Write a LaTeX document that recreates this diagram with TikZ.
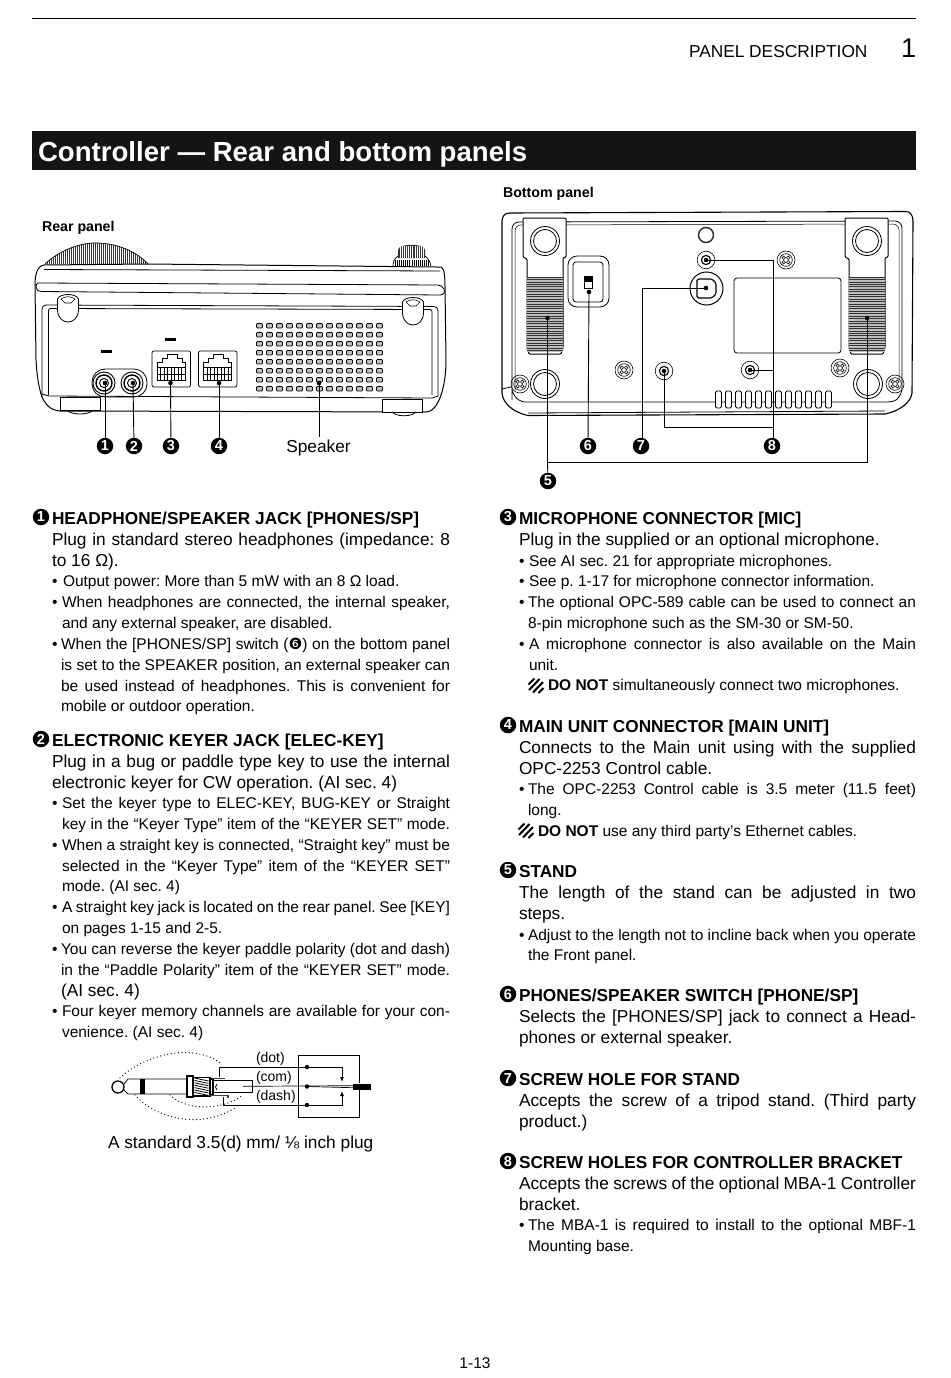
\documentclass[tikz,border=0pt]{standalone}
\usepackage{fontspec}
\usetikzlibrary{arrows.meta}
\setmainfont{Liberation Sans}
\newfontfamily\dejavu{DejaVu Sans}
\AtBeginDocument{\frenchspacing}
\newcounter{tn}
\newcommand\fbody{\fontsize{17.3}{20}\selectfont}
\newcommand\fbul{\fontsize{15.5}{18}\selectfont}
\newcommand\fhead{\fontsize{17.25}{20}\selectfont\bfseries}
% left text: x,y,text
\newcommand\tb[3]{\stepcounter{tn}\node[txt,name=t\arabic{tn}] at (#1,#2) {\fbody #3};}
\newcommand\tu[3]{\stepcounter{tn}\node[txt,name=t\arabic{tn}] at (#1,#2) {\fbul #3};}
% justified: x,xend,y,text
\newcommand\jb[4]{\stepcounter{tn}\node[txt,name=t\arabic{tn}] at (#1,#3) {\fbody\makebox[\dimexpr #2pt-#1pt\relax][s]{#4}};}
\newcommand\ju[4]{\stepcounter{tn}\node[txt,name=t\arabic{tn}] at (#1,#3) {\fbul\makebox[\dimexpr #2pt-#1pt\relax][s]{#4}};}
\newcommand\bu[2]{\stepcounter{tn}\node[txt,name=t\arabic{tn}] at (#1,#2) {\fbul •};}
\newcommand\hd[4]{\node[callout] (h#3) at (#1,{#2-7}) {#3};\stepcounter{tn}\node[txt,name=t\arabic{tn}] at ({#1+11},#2) {\fhead #4};}
\newcommand\hatchicon[2]{\begin{scope}[shift={(#1,#2)},line width=2pt]
\draw (0.5,6.5) -- (6.5,0.5);
\draw (1,12) -- (11.5,1);
\draw (5,14.5) -- (15,4);
\draw (10.5,15) -- (15.5,10);
\end{scope}}
\newcommand\hexscrew[2]{\begin{scope}[shift={(#1,#2)}]
\draw[line width=.6pt] (0,0) circle (9);
\draw[line width=.6pt] (0,0) circle (6.3);
\draw[line width=.6pt] (-2.2,-2.2) circle (1.7) (2.2,-2.2) circle (1.7) (-2.2,2.2) circle (1.7) (2.2,2.2) circle (1.7);
\end{scope}}
\newcommand\ringscrew[2]{\begin{scope}[shift={(#1,#2)}]
\draw[line width=.6pt,fill=white] (0,0) circle (8.8);
\draw[line width=1.1pt] (0,0) circle (4.6);
\end{scope}}
\newcommand\rjack[2]{\begin{scope}[shift={(#1,#2)}]
\draw[line width=.7pt,rounded corners=2pt] (0,0) rectangle (38.5,36);
\draw[line width=.7pt] (5,29) -- (5,11.5) -- (10,11.5) -- (10,7.5) -- (15,7.5) -- (15,3.5) -- (25,3.5) -- (25,7.5) -- (30,7.5) -- (30,11.5) -- (33,11.5) -- (33,29) -- cycle;
\draw[line width=.6pt] (5,16) -- (33,16) (5,23) -- (33,23);
\foreach \k in {0,...,8}{\draw[line width=.6pt] ({5+3.5*\k},16) -- ({5+3.5*\k},29);}
\end{scope}}
\tikzset{
  txt/.style={anchor=base west,inner sep=0pt,outer sep=0pt,text=black},
  callout/.style={circle,fill=black,text=white,inner sep=0pt,minimum size=16.5pt,font=\fontsize{14.5}{14.5}\selectfont\bfseries},
  pdot/.style={circle,fill=black,inner sep=0pt,minimum size=4.6pt},
  lead/.style={line width=.9pt,black},
  ln/.style={line width=.8pt,black},
  wire/.style={line width=.9pt,black},
  dots/.style={line width=1.3pt,line cap=round,dash pattern=on 0pt off 3.6pt,black}
}
\begin{document}
\begin{tikzpicture}[x=1pt,y=-1pt,line cap=butt]
\useasboundingbox[fill=white] (0,0) rectangle (950,1378);
% header
\draw[line width=1.6pt] (32,18.5) -- (916,18.5);
\node[txt,name=hdr] at (689,58) {\fontsize{17.3}{20}\selectfont PANEL DESCRIPTION};
\node[txt,name=pnum] at (901,58) {\fontsize{27}{30}\selectfont 1};
\fill[black!92] (32,131) rectangle (916,170);
\node[txt,name=title,text=white] at (38,161) {\fontsize{27.6}{32}\selectfont\bfseries Controller — Rear and bottom panels};
\node[txt,name=rearl] at (42,231) {\fontsize{14.2}{16}\selectfont\bfseries Rear panel};
\node[txt,name=botl] at (503,197) {\fontsize{14.2}{16}\selectfont\bfseries Bottom panel};

% ---------- REAR PANEL ----------
\begin{scope}
\clip (45,264) .. controls (60,250) and (80,243) .. (95,243) .. controls (115,243) and (135,250) .. (148,264) -- cycle;
\foreach \i in {0,...,52}{\draw[line width=.7pt,black!80] ({45+2*\i},242) -- ({45+2*\i},265);}
\end{scope}
\draw[line width=.7pt] (45,264) .. controls (60,250) and (80,243) .. (95,243) .. controls (115,243) and (135,250) .. (148,264);
% right knob
\fill[black!80] (398,250) .. controls (398,243) and (425,243) .. (425,250) -- (425,258) -- (398,258) -- cycle;
\foreach \i in {0,...,11}{\draw[white,line width=.4pt] ({400+2.1*\i},246) -- ({400+2.1*\i},258);}
\draw[line width=.7pt] (398,256) .. controls (394,259) and (393,262) .. (393,266);
\draw[line width=.7pt] (425,256) .. controls (429,259) and (430,262) .. (431,266);
\foreach \i in {0,...,16}{\draw[line width=.5pt] ({395+2.1*\i},260) -- ({395+2.1*\i},266);}
% body
\draw[ln,line width=1pt] (148,264) -- (436,267) -- (441,267) .. controls (444,268) and (445,275) .. (445,287) -- (446,360) .. controls (446,380) and (442,395) .. (438,402) .. controls (434,410) and (430,412) .. (425,412) -- (60,411) .. controls (50,410) and (46,405) .. (42,397) .. controls (38,385) and (37,375) .. (36,360) -- (35,285) .. controls (35,275) and (37,266) .. (44,265) -- cycle;
\draw[ln] (44,269.5) -- (440,271);
\draw[ln] (38,283) .. controls (37,283) and (36,285) .. (36,287) .. controls (36,290) and (38,291) .. (42,291.5) -- (440,295) .. controls (444,295) and (445,292) .. (444,289) .. controls (443,287) and (441,285) .. (438,285) -- (38,283);
\draw[ln,rounded corners=4pt] (42,397) -- (42,305) -- (438,306.5) -- (438,397);
\draw[ln,rounded corners=2pt] (48.5,395) -- (48.5,308.5) -- (432,309.5) -- (432,395);
\draw[ln] (42,394) -- (49,396) -- (432,398) -- (438,396);
% feet
\draw[ln,fill=white] (60,397) rectangle (100,410);
\draw[ln,fill=white] (382,399) rectangle (422,412);
\draw[ln] (68,411) .. controls (72,415) and (88,415) .. (92,411);
\draw[ln] (392,412) .. controls (396,417) and (412,417) .. (416,412);
% top screws
\foreach \xx/\yy in {68/308,413/311}{
  \draw[ln,fill=white] ({\xx-10.5},{\yy-9}) .. controls ({\xx-8},{\yy-15}) and ({\xx+8},{\yy-15}) .. ({\xx+10.5},{\yy-9}) -- ({\xx+10.5},{\yy+2}) .. controls ({\xx+10},{\yy+18}) and ({\xx-10},{\yy+18}) .. ({\xx-10.5},{\yy+2}) -- cycle;
  \draw[line width=.6pt] ({\xx-7},{\yy-9}) .. controls ({\xx-3},{\yy-12}) and ({\xx+3},{\yy-12}) .. ({\xx+7},{\yy-9}) -- ({\xx+3},{\yy-5}) -- ({\xx-3},{\yy-5}) -- cycle;
}
% label dashes
\fill (100.5,349.7) rectangle (111.5,352.7);
\fill (165,338) rectangle (176,340.5);
% jacks
\draw[ln,rounded corners=13pt] (92,369) rectangle (147,397);
\foreach \xx in {104,132}{
  \draw[line width=.9pt] (\xx,383) circle (11);
  \draw[line width=1.4pt] (\xx,383) circle (8);
  \draw[line width=.9pt] (\xx,383) circle (4.5);
}
\rjack{152}{351}
\rjack{198.5}{351}
% speaker grid
\foreach \i in {0,...,12}{\foreach \j in {0,...,7}{
  \draw[line width=.7pt,fill=black!25,rounded corners=.8pt] ({256.5+10*\i},{323.5+9*\j}) rectangle ++(6,4.4);
}}
% callouts rear
\node[pdot] (d1) at (105,383) {};
\node[pdot] (d2) at (133,383) {};
\node[pdot] (d3) at (170.5,383) {};
\node[pdot] (d4) at (219,383) {};
\node[pdot] (dsp) at (319,383) {};
\node[callout] (c1) at (105,446) {1};
\node[callout] (c2) at (134,446) {2};
\node[callout] (c3) at (171,446) {3};
\node[callout] (c4) at (219,446) {4};
\node[anchor=base,inner sep=0pt] (spk) at (318.5,452) {\fontsize{17.3}{20}\selectfont Speaker};
\draw[lead] (d1.center) -- (c1);
\draw[lead] (d2.center) -- (c2);
\draw[lead] (d3.center) -- (c3);
\draw[lead] (d4.center) -- (c4);
\draw[line width=.7pt] (dsp.center) -- (319,437);

% ---------- BOTTOM PANEL ----------
\draw[line width=1.1pt] (510,213) -- (905,211.5) .. controls (910,211) and (913,215) .. (913,221) -- (912,393) .. controls (911,402) and (900,411) .. (885,414) -- (528,415.5) .. controls (512,412) and (503,403) .. (502,393) -- (502,221) .. controls (502,216) and (505,213) .. (510,213) -- cycle;
\draw[ln] (528,413) -- (885,411);
\draw[ln,rounded corners=7pt] (512,400) -- (512,222) -- (902,221) -- (902,395) .. controls (895,401) and (890,402) .. (880,402) -- (532,402) .. controls (522,402) and (515,400) .. (512,390);
\draw[line width=.5pt,rounded corners=6pt] (515,390) -- (515,225) -- (899,224) -- (899,380);
\draw[ln] (502,389) -- (511,387);
% stands
\foreach \sx/\sw/\sl in {523/43/527,845/43/849}{
  \draw[line width=1pt,fill=white,rounded corners=1pt] (\sx,218) -- ({\sx+\sw},218) -- ({\sx+\sw},257) -- ({\sx+\sw-3},258) -- ({\sx+\sw-3},348) -- ({\sx+\sw-5},354) -- ({\sl+2},354) -- (\sl,348) -- (\sl,259) -- (\sx,257) -- cycle;
  \fill[black!25] (\sl,277) rectangle ({\sx+\sw-3},352);
  \foreach \k in {0,...,30}{\draw[line width=.8pt,black!80] (\sl,{277+2.45*\k}) -- ({\sx+\sw-3},{277+2.45*\k});}
}
% rubber feet
\foreach \xx/\yy in {545/241,867/241,545/384,868/384}{
  \draw[ln,fill=white] (\xx,\yy) circle (14.5);
  \draw[ln] (\xx,\yy) circle (11.5);
}
\draw[line width=1.5pt,black!80] (706,235) circle (7.5);
% switch
\draw[ln,rounded corners=9pt] (568,256) rectangle (609,307);
\draw[ln,rounded corners=3pt] (573,262) rectangle (603,302);
\draw[line width=.7pt] (584,276) rectangle (592,288);
\fill (584,276) rectangle (592,282);
% mic
\draw[line width=1pt] (706.5,288.5) circle (16.5);
\draw[line width=1.1pt,rounded corners=1.5pt] (697,279) -- (712,279) -- (716,283) -- (716,294) -- (712,298) -- (697,298) -- cycle;
% label
\draw[ln,rounded corners=3pt] (734,278) rectangle (841,353);
% screws
\ringscrew{706}{260}
\ringscrew{664}{371}
\ringscrew{750}{370}
\hexscrew{786}{260}
\hexscrew{624}{370}
\hexscrew{840}{368}
\hexscrew{520}{384}
\hexscrew{895}{384}
% vents
\foreach \i in {0,...,11}{\draw[line width=.9pt,fill=white,rounded corners=1.5pt] ({715.5+10*\i},391) rectangle ++(6,17);}
% connectors bottom
\node[pdot] (d5a) at (547.5,318) {};
\node[pdot] (d5b) at (867,318) {};
\node[pdot] (d6) at (589,292) {};
\node[pdot] (d7) at (706,288) {};
\node[pdot] (d8a) at (706,260) {};
\node[pdot] (d8b) at (750,370) {};
\node[pdot] (d8c) at (664,371) {};
\node[callout] (c5) at (548,481) {5};
\node[callout] (c6) at (588,446) {6};
\node[callout] (c7) at (641,446) {7};
\node[callout] (c8) at (772,446) {8};
\coordinate (j5) at (547.5,462);
\coordinate (j8) at (773,427);
\draw[lead] (d5a.center) -- (j5) -- (c5);
\draw[lead] (d5b.center) -- (867,462) -- (j5);
\draw[lead] (d6.center) -- (c6);
\draw[lead] (d7.center) -- (642,288) -- (642,437.75);
\draw[lead] (d8a.center) -- (773,260) -- (773,437.75);
\draw[lead] (d8b.center) -- (773,370);
\draw[lead] (d8c.center) -- (664,427) -- (j8);

% ---------- LEFT TEXT ----------
\hd{41}{524}{1}{HEADPHONE/SPEAKER JACK [PHONES/SP]}
\jb{52}{450}{545}{Plug in standard stereo headphones (impedance: 8}
\tb{52}{566}{to 16 Ω).}
\bu{52}{586}\tu{63}{586}{Output power: More than 5 mW with an 8 Ω load.}
\bu{52}{607}\ju{62}{450}{607}{When headphones are connected, the internal speaker,}
\tu{62}{628}{and any external speaker, are disabled.}
\bu{52}{649}\ju{61}{450}{649}{When the [PHONES/SP] switch ({\dejavu ❻}) on the bottom panel}
\ju{61}{450}{670}{is set to the SPEAKER position, an external speaker can}
\ju{61}{450}{691}{be used instead of headphones. This is convenient for}
\tu{61}{711}{mobile or outdoor operation.}
\hd{41}{746}{2}{ELECTRONIC KEYER JACK [ELEC-KEY]}
\jb{52}{450}{767}{Plug in a bug or paddle type key to use the internal}
\tb{52}{788}{electronic keyer for CW operation. (AI sec. 4)}
\bu{52}{808}\ju{62}{450}{808}{Set the keyer type to ELEC-KEY, BUG-KEY or Straight}
\ju{62}{450}{829}{key in the “Keyer Type” item of the “KEYER SET” mode.}
\bu{52}{850}\ju{62}{450}{850}{When a straight key is connected, “Straight key” must be}
\ju{62}{450}{871}{selected in the “Keyer Type” item of the “KEYER SET”}
\tu{62}{891}{mode. (AI sec. 4)}
\bu{52}{912}\ju{62}{450}{912}{A straight key jack is located on the rear panel. See [KEY]}
\tu{62}{933}{on pages 1-15 and 2-5.}
\bu{52}{954}\ju{61}{450}{954}{You can reverse the keyer paddle polarity (dot and dash)}
\ju{61}{450}{975}{in the “Paddle Polarity” item of the “KEYER SET” mode.}
\tb{61}{996}{(AI sec. 4)}
\bu{52}{1016}\ju{62}{450}{1016}{Four keyer memory channels are available for your con-}
\tu{62}{1037}{venience. (AI sec. 4)}

% ---------- PLUG ----------
\draw[line width=1.3pt] (118,1087) circle (6);
\draw[ln] (124,1084) -- (128,1079) -- (187,1079) (124,1090) -- (128,1094) -- (187,1094);
\fill (140,1079) rectangle (145,1094);
\draw[line width=1.1pt] (187,1076) rectangle (193,1097);
\draw[line width=1.1pt] (193,1077.5) rectangle (210,1096);
\foreach \k in {0,...,6}{\draw[line width=.8pt] (194.5,{1078+2.4*\k}) -- (208.5,{1081+2.4*\k});}
\draw[line width=1.3pt] (210,1079) -- (213,1079) -- (213,1095) -- (210,1095);
\draw[line width=1.5pt,black!75] (212,1078.5) -- (225,1078.5) (208,1095.5) -- (228,1095.5) -- (228,1098);
\draw[ln] (213,1080) -- (252,1080) -- (252,1092) -- (213,1092);
\draw[ln] (217,1084) .. controls (215,1086) and (215,1088) .. (217,1090);
\draw[dots] (120,1078) .. controls (140,1058) and (190,1040) .. (222,1064);
\draw[dots] (135,1095) .. controls (155,1118) and (200,1130) .. (235,1108);
\draw[dots] (170,1095) .. controls (185,1110) and (220,1112) .. (243,1095);
\node[pdot,minimum size=4.4pt] (w1) at (307,1067) {};
\node[pdot,minimum size=4.4pt] (w2) at (307,1086.5) {};
\node[pdot,minimum size=4.4pt] (w3) at (307,1105) {};
\draw[wire] (219,1077) -- (219,1067) -- (w1.center);
\draw[wire,-{Latex[length=5pt,width=4pt]}] (w1.center) -- (342,1067) -- (342,1082);
\draw[wire] (223,1097) -- (223,1105) -- (w3.center);
\draw[wire,-{Latex[length=5pt,width=4pt]}] (w3.center) -- (342,1105) -- (342,1091);
\draw[line width=.7pt] (243,1086.3) -- (353,1085.7);
\draw[line width=.7pt] (w2.center) -- (353,1087.7);
\fill (353,1083.5) rectangle (371,1089.5);
\draw[line width=1pt] (359,1083) -- (359,1055) -- (298,1055) -- (298,1117) -- (359,1117) -- (359,1090);
\node[txt,name=pd] at (256,1062) {\fontsize{14}{16}\selectfont (dot)};
\node[txt,name=pc] at (256,1081) {\fontsize{14}{16}\selectfont (com)};
\node[txt,name=pa] at (256,1100) {\fontsize{14}{16}\selectfont (dash)};
\node[txt,name=pcap] at (108,1148) {\fontsize{17.3}{20}\selectfont A standard 3.5(d) mm/ ⅛ inch plug};

% ---------- RIGHT TEXT ----------
\hd{508}{524}{3}{MICROPHONE CONNECTOR [MIC]}
\tb{519}{545}{Plug in the supplied or an optional microphone.}
\bu{519}{566}\tu{529}{566}{See AI sec. 21 for appropriate microphones.}
\bu{519}{586}\tu{529}{586}{See p. 1-17 for microphone connector information.}
\bu{519}{607}\ju{528}{916}{607}{The optional OPC-589 cable can be used to connect an}
\tu{528}{628}{8-pin microphone such as the SM-30 or SM-50.}
\bu{519}{649}\ju{529}{916}{649}{A microphone connector is also available on the Main}
\tu{529}{670}{unit.}
\hatchicon{528}{678}
\tu{548}{690}{\textbf{DO NOT} simultaneously connect two microphones.}
\hd{508}{732}{4}{MAIN UNIT CONNECTOR [MAIN UNIT]}
\jb{519}{916}{753}{Connects to the Main unit using with the supplied}
\tb{519}{774}{OPC-2253 Control cable.}
\bu{519}{794}\ju{528}{916}{794}{The OPC-2253 Control cable is 3.5 meter (11.5 feet)}
\tu{528}{815}{long.}
\hatchicon{518}{823}
\tu{538}{836}{\textbf{DO NOT} use any third party’s Ethernet cables.}
\hd{508}{877}{5}{STAND}
\jb{519}{916}{898}{The length of the stand can be adjusted in two}
\tb{519}{919}{steps.}
\bu{519}{940}\ju{528}{916}{940}{Adjust to the length not to incline back when you operate}
\tu{528}{960}{the Front panel.}
\hd{508}{1001}{6}{PHONES/SPEAKER SWITCH [PHONE/SP]}
\jb{519}{916}{1022}{Selects the [PHONES/SP] jack to connect a Head-}
\tb{519}{1043}{phones or external speaker.}
\hd{508}{1085}{7}{SCREW HOLE FOR STAND}
\jb{519}{916}{1106}{Accepts the screw of a tripod stand. (Third party}
\tb{519}{1127}{product.)}
\hd{508}{1168}{8}{SCREW HOLES FOR CONTROLLER BRACKET}
\jb{519}{916}{1189}{Accepts the screws of the optional MBA-1 Controller}
\tb{519}{1210}{bracket.}
\bu{519}{1230}\ju{528}{916}{1230}{The MBA-1 is required to install to the optional MBF-1}
\tu{528}{1251}{Mounting base.}
\node[anchor=base,inner sep=0pt] (pg) at (475,1368) {\fontsize{15.5}{18}\selectfont 1-13};
\end{tikzpicture}
\end{document}
